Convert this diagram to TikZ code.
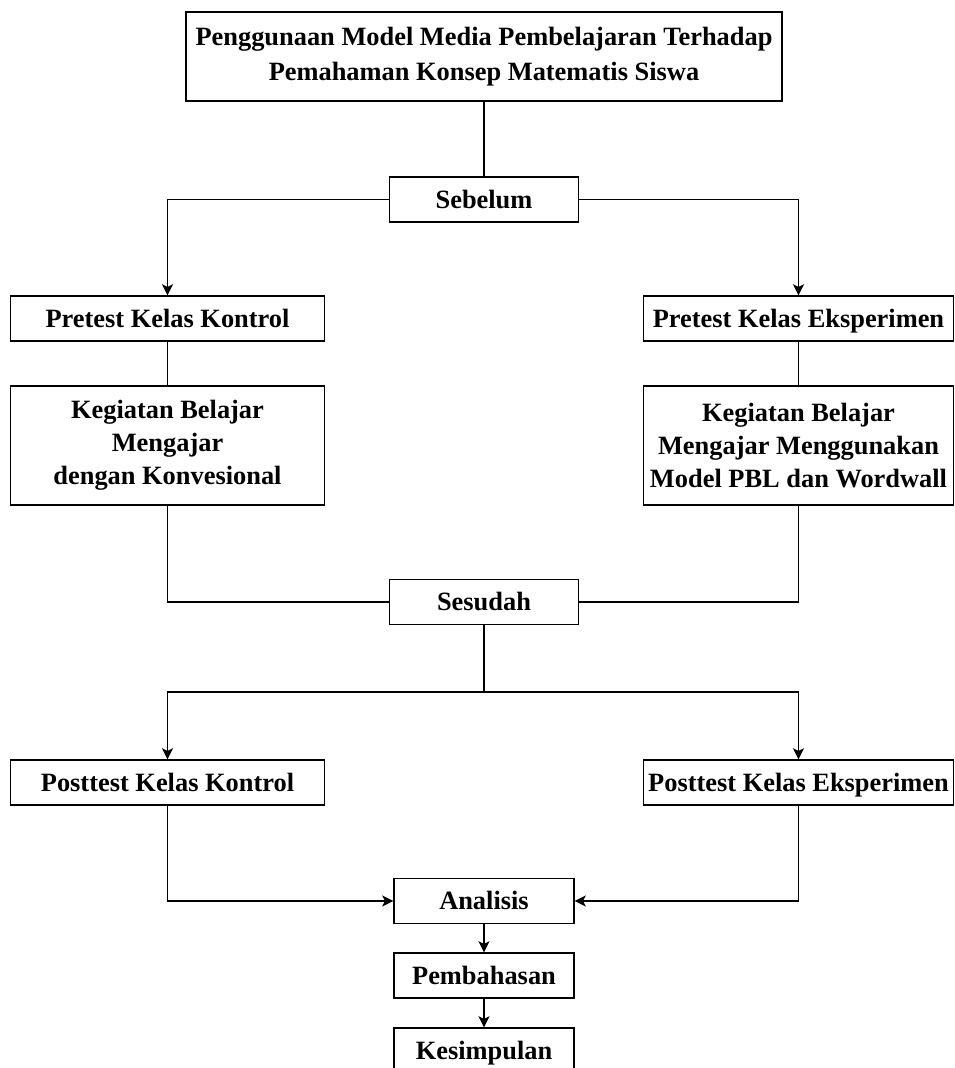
\documentclass[tikz,border=0pt]{standalone}
\usepackage{fontspec}
\setmainfont{Liberation Serif}
\usetikzlibrary{arrows.meta}

\begin{document}
\begin{tikzpicture}[x=0.5pt,y=-0.5pt,line width=0.7pt,
		>={Stealth[length=5.5pt,width=5.5pt,inset=1.3pt]},
		every node/.style={font=\fontsize{13.2}{16.5}\selectfont\bfseries},
		box/.style={rectangle,draw,inner sep=0pt,align=center,minimum height=22.5pt},
		one line/.style={box,text height=10.4pt,text depth=1.6pt},
		mid box/.style={one line,minimum width=94.5pt},
		left box/.style={one line,minimum width=157pt},
		right box/.style={one line,minimum width=155pt},
		end box/.style={one line,minimum width=90pt}]
		
		\clip (0,0) rectangle (954,1068);
		
		\node[box,minimum width=298pt,minimum height=44.5pt,font=\fontsize{13.2}{17.3}\selectfont\bfseries] (judul) at (484,56.5) {Penggunaan Model Media Pembelajaran Terhadap\\Pemahaman Konsep Matematis Siswa};
		\node[mid box] (sebelum) [below of=judul, node distance=71.5pt] {Sebelum};
		\node[left box] (preK) [below of=sebelum, node distance=59.5pt, xshift=-158.25pt] {Pretest Kelas Kontrol};
		\node[right box] (preE) [below of=sebelum, node distance=59.5pt, xshift=157.25pt] {Pretest Kelas Eksperimen};
		\node[box, minimum width=157pt, minimum height=59.5pt] (kbmK) [below of=preK, node distance=63.5pt] {Kegiatan Belajar\\Mengajar\\dengan Konvesional};
		\node[box, minimum width=155pt, minimum height=59.5pt] (kbmE) [below of=preE, node distance=63.5pt] {Kegiatan Belajar\\Mengajar Menggunakan\\Model PBL dan Wordwall};
		\node[mid box] (sesudah) [below of=sebelum, node distance=201.25pt] {Sesudah};
		\coordinate[below of=sesudah, node distance=45pt] (cabang);
		\node[left box] (postK) [below of=sesudah, node distance=90.25pt, xshift=-158.25pt] {Posttest Kelas Kontrol};
		\node[right box] (postE) [below of=sesudah, node distance=90.25pt, xshift=157.25pt] {Posttest Kelas Eksperimen};
		\node[end box] (analisis) [below of=sesudah, node distance=149.5pt] {Analisis};
		\node[end box] (bahas) [below of=analisis, node distance=37.25pt] {Pembahasan};
		\node[end box] (simpul) [below of=bahas, node distance=37.5pt] {Kesimpulan};
		
		\draw (judul) -- (sebelum);
		\draw[->] (sebelum.west) -| (preK.north);
		\draw[->] (sebelum.east) -| (preE.north);
		\draw (preK) -- (kbmK);
		\draw (preE) -- (kbmE);
		\draw (kbmK.south) |- (sesudah.west);
		\draw (kbmE.south) |- (sesudah.east);
		\draw (sesudah) -- (cabang);
		\draw[->] (cabang) -| (postK.north);
		\draw[->] (cabang) -| (postE.north);
		\draw[->] (postK.south) |- (analisis.west);
		\draw[->] (postE.south) |- (analisis.east);
		\draw[->] (analisis) -- (bahas);
		\draw[->] (bahas) -- (simpul);
\end{tikzpicture}
\end{document}
